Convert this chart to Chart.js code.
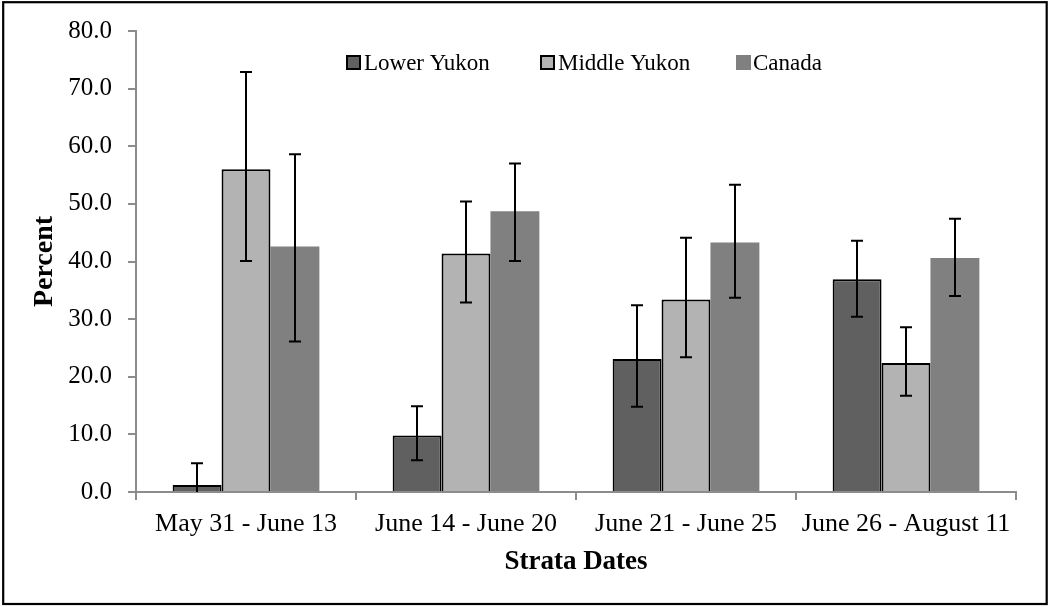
<!DOCTYPE html>
<html>
<head>
<meta charset="utf-8">
<script src="https://cdn.jsdelivr.net/npm/chart.js@4.4.1/dist/chart.umd.min.js"></script>
<style>
  html, body { margin: 0; padding: 0; background: #ffffff; }
  #wrap { width: 1048px; height: 607px; position: relative; }
  canvas { display: block; }
</style>
</head>
<body>
<div id="wrap"><canvas id="c" width="1048" height="607"></canvas></div>
<script>
// ---- Data ----
const categories = ['May 31 - June 13', 'June 14 - June 20', 'June 21 - June 25', 'June 26 - August 11'];
const seriesNames = ['Lower Yukon', 'Middle Yukon', 'Canada'];

const lowerYukon     = [1.2, 9.8, 23.1, 36.9];
const lowerYukonLow  = [-2.6, 5.5, 14.8, 30.4];
const lowerYukonHigh = [5.0, 14.9, 32.4, 43.6];

const middleYukon     = [56.0, 41.4, 33.4, 22.4];
const middleYukonLow  = [40.1, 32.9, 23.4, 16.7];
const middleYukonHigh = [72.9, 50.4, 44.1, 28.6];

const canada     = [42.6, 48.7, 43.3, 40.6];
const canadaLow  = [26.1, 40.1, 33.7, 34.0];
const canadaHigh = [58.6, 57.0, 53.3, 47.4];

const yTicks = ['0.0', '10.0', '20.0', '30.0', '40.0', '50.0', '60.0', '70.0', '80.0'];

const FONT = "'Liberation Serif', 'Times New Roman', serif";

const errorLows  = [lowerYukonLow, middleYukonLow, canadaLow];
const errorHighs = [lowerYukonHigh, middleYukonHigh, canadaHigh];

// ---- Plugins ----
const errorBarPlugin = {
  id: 'errorBars',
  afterDatasetsDraw(chart) {
    const ctx = chart.ctx;
    const yScale = chart.scales.y;
    const area = chart.chartArea;
    ctx.save();
    ctx.beginPath();
    ctx.rect(area.left, area.top, area.right - area.left, area.bottom - area.top);
    ctx.clip();
    ctx.strokeStyle = '#000000';
    ctx.lineWidth = 2;
    chart.data.datasets.forEach((ds, di) => {
      const meta = chart.getDatasetMeta(di);
      meta.data.forEach((bar, i) => {
        const x = Math.round(bar.x);
        const yLo = yScale.getPixelForValue(errorLows[di][i]);
        const yHi = yScale.getPixelForValue(errorHighs[di][i]);
        const cap = 6;
        ctx.beginPath();
        ctx.moveTo(x, yLo); ctx.lineTo(x, yHi);
        ctx.moveTo(x - cap, yHi); ctx.lineTo(x + cap, yHi);
        ctx.moveTo(x - cap, yLo); ctx.lineTo(x + cap, yLo);
        ctx.stroke();
      });
    });
    ctx.restore();
  }
};

const legendPlugin = {
  id: 'customLegend',
  afterDraw(chart) {
    const ctx = chart.ctx;
    const boxX = [346, 540, 736];
    const textX = [364, 558, 753];
    const boxY = 55, box = 15, baseY = 70;
    ctx.save();
    ctx.font = '23px ' + FONT;
    ctx.textBaseline = 'alphabetic';
    ctx.textAlign = 'left';
    chart.data.datasets.forEach((ds, di) => {
      ctx.fillStyle = ds.backgroundColor;
      ctx.fillRect(boxX[di], boxY, box, box);
      if (ds.borderWidth > 0) {
        ctx.strokeStyle = '#000000';
        ctx.lineWidth = 2;
        ctx.strokeRect(boxX[di] + 1, boxY + 1, box - 2, box - 2);
      }
      ctx.fillStyle = '#000000';
      ctx.fillText(ds.label, textX[di], baseY);
    });
    ctx.restore();
  }
};

const framePlugin = {
  id: 'frame',
  beforeDraw(chart) {
    const ctx = chart.ctx;
    ctx.save();
    ctx.fillStyle = '#ffffff';
    ctx.fillRect(0, 0, chart.width, chart.height);
    ctx.restore();
  },
  afterDraw(chart) {
    const ctx = chart.ctx;
    ctx.save();
    ctx.strokeStyle = '#000000';
    ctx.lineWidth = 2.2;
    ctx.strokeRect(3.2, 2.2, 1043.5, 601.8);
    ctx.restore();
  }
};

// ---- Chart ----
new Chart(document.getElementById('c'), {
  type: 'bar',
  data: {
    labels: categories,
    datasets: [
      { label: seriesNames[0], data: lowerYukon, backgroundColor: '#606060', borderColor: '#000000', borderWidth: 2 },
      { label: seriesNames[1], data: middleYukon, backgroundColor: '#b3b3b3', borderColor: '#000000', borderWidth: 2 },
      { label: seriesNames[2], data: canada, backgroundColor: '#808080', borderColor: '#a0a0a0', borderWidth: 0 }
    ]
  },
  options: {
    responsive: false,
    animation: false,
    devicePixelRatio: 1,
    layout: { padding: { left: 10, top: 29, right: 32, bottom: 10 } },
    datasets: { bar: { categoryPercentage: 0.667, barPercentage: 1.0 } },
    plugins: {
      legend: { display: false },
      tooltip: { enabled: false },
      title: { display: false }
    },
    scales: {
      x: {
        afterFit(scale) { scale.height = 105; },
        grid: { display: true, drawOnChartArea: false, drawTicks: true, tickLength: 8, color: '#8c8c8c', lineWidth: 2, offset: true },
        border: { display: true, color: '#8c8c8c', width: 2 },
        ticks: { color: '#000000', font: { family: FONT, size: 26 }, padding: 9, maxRotation: 0, autoSkip: false },
        title: { display: true, text: 'Strata Dates', color: '#000000', font: { family: FONT, size: 27, weight: 'bold' }, padding: { top: 0, bottom: 19 } }
      },
      y: {
        min: 0,
        max: 80,
        afterFit(scale) { scale.width = 126; },
        grid: { display: true, drawOnChartArea: false, drawTicks: true, tickLength: 8, color: '#8c8c8c', lineWidth: 2 },
        border: { display: true, color: '#8c8c8c', width: 2 },
        ticks: {
          stepSize: 10,
          color: '#000000',
          font: { family: FONT, size: 25 },
          padding: 16,
          callback: (v) => yTicks[Math.round(v / 10)]
        },
        title: { display: true, text: 'Percent', color: '#000000', font: { family: FONT, size: 28, weight: 'bold' }, padding: { top: 18, bottom: 0 } }
      }
    }
  },
  plugins: [framePlugin, errorBarPlugin, legendPlugin]
});
</script>
</body>
</html>
